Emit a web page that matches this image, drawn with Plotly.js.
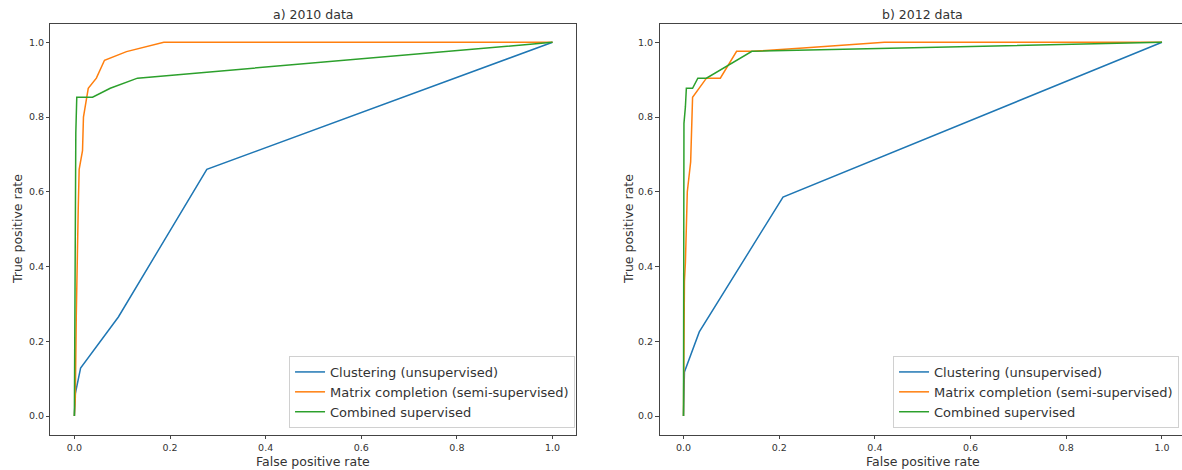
<!DOCTYPE html>
<html>
<head>
<meta charset="utf-8">
<script src="https://cdn.plot.ly/plotly-3.0.1.min.js"></script>
<style>html,body{margin:0;padding:0;background:#fff;}#chart{width:1182px;height:470px;}</style>
</head>
<body>
<div id="chart"></div>
<script>
// Series names
const seriesNames = ["Clustering (unsupervised)", "Matrix completion (semi-supervised)", "Combined supervised"];
const panelTitles = ["a) 2010 data", "b) 2012 data"];
const xTitle = "False positive rate";
const yTitle = "True positive rate";
const tickVals = [0, 0.2, 0.4, 0.6, 0.8, 1.0];

// a) 2010 data
const clust2010_fpr = [0, 0.002, 0.013, 0.092, 0.277, 1.0];
const clust2010_tpr = [0, 0.06, 0.128, 0.265, 0.66, 1.0];
const matrix2010_fpr = [0, 0.002, 0.004, 0.006, 0.008, 0.010, 0.017, 0.019, 0.029, 0.046, 0.063, 0.109, 0.187, 1.0];
const matrix2010_tpr = [0, 0.05, 0.27, 0.45, 0.55, 0.66, 0.71, 0.80, 0.877, 0.904, 0.952, 0.975, 1.0, 1.0];
const comb2010_fpr = [0, 0.002, 0.003, 0.005, 0.038, 0.075, 0.132, 1.0];
const comb2010_tpr = [0, 0.5, 0.757, 0.853, 0.853, 0.877, 0.904, 1.0];

// b) 2012 data
const clust2012_fpr = [0, 0.001, 0.002, 0.033, 0.208, 1.0];
const clust2012_tpr = [0, 0.09, 0.118, 0.225, 0.586, 1.0];
const matrix2012_fpr = [0, 0.002, 0.004, 0.006, 0.008, 0.015, 0.019, 0.048, 0.077, 0.111, 0.145, 0.25, 0.35, 0.42, 1.0];
const matrix2012_tpr = [0, 0.36, 0.41, 0.50, 0.60, 0.68, 0.853, 0.904, 0.904, 0.976, 0.976, 0.985, 0.993, 1.0, 1.0];
const comb2012_fpr = [0, 0.001, 0.004, 0.006, 0.019, 0.030, 0.048, 0.143, 1.0];
const comb2012_tpr = [0, 0.783, 0.827, 0.877, 0.877, 0.904, 0.904, 0.976, 1.0];

const colors = ["#1f77b4", "#ff7f0e", "#2ca02c"];

function tr(x, y, i, xa, ya, lg) {
  return {x: x, y: y, type: "scatter", mode: "lines", name: seriesNames[i],
    line: {color: colors[i], width: 1.5}, xaxis: xa, yaxis: ya, legend: lg,
    hoverinfo: "skip"};
}

const data = [
  tr(clust2010_fpr, clust2010_tpr, 0, "x", "y", "legend"),
  tr(matrix2010_fpr, matrix2010_tpr, 1, "x", "y", "legend"),
  tr(comb2010_fpr, comb2010_tpr, 2, "x", "y", "legend"),
  tr(clust2012_fpr, clust2012_tpr, 0, "x2", "y2", "legend2"),
  tr(matrix2012_fpr, matrix2012_tpr, 1, "x2", "y2", "legend2"),
  tr(comb2012_fpr, comb2012_tpr, 2, "x2", "y2", "legend2")
];

const tickFont = {family: "DejaVu Sans", size: 9.5, color: "#333"};
function axis(domain, range, anchor) {
  return {domain: domain, range: range, anchor: anchor, showgrid: false, zeroline: false,
    showline: true, mirror: true, linecolor: "#444", linewidth: 1,
    ticks: "outside", ticklen: 3.5, tickwidth: 1, tickcolor: "#444",
    tickvals: tickVals, tickformat: ".1f", tickfont: tickFont, fixedrange: true};
}
const yDom = [0.0751, 0.9498];
const legendBase = {bgcolor: "rgba(255,255,255,0.85)", bordercolor: "#d0d0d0", borderwidth: 1,
  font: {family: "DejaVu Sans", size: 13, color: "#333"}, xanchor: "right", yanchor: "bottom",
  tracegroupgap: 0, itemwidth: 30};

const layout = {
  width: 1182, height: 470,
  margin: {l: 0, r: 0, t: 0, b: 0},
  paper_bgcolor: "#fff", plot_bgcolor: "#fff",
  showlegend: true,
  xaxis: axis([0.0427, 0.4877], [-0.05, 1.05], "y"),
  yaxis: axis(yDom, [-0.05, 1.05], "x"),
  xaxis2: axis([0.558, 1.0], [-0.05, 1.0418], "y2"),
  yaxis2: axis(yDom, [-0.05, 1.05], "x2"),
  legend: Object.assign({}, legendBase, {x: 0.4865, y: 0.0894}),
  legend2: Object.assign({}, legendBase, {x: 0.9975, y: 0.0894}),
  annotations: [
    {text: panelTitles[0], xref: "paper", yref: "paper", x: 0.2652, y: 1 - 14/470, xanchor: "center", yanchor: "middle", showarrow: false, font: {family: "DejaVu Sans", size: 12.5, color: "#333"}},
    {text: panelTitles[1], xref: "paper", yref: "paper", x: 922.7/1182, y: 1 - 14/470, xanchor: "center", yanchor: "middle", showarrow: false, font: {family: "DejaVu Sans", size: 12.5, color: "#333"}},
    {text: xTitle, xref: "paper", yref: "paper", x: 0.2652, y: 1 - 461/470, xanchor: "center", yanchor: "middle", showarrow: false, font: {family: "DejaVu Sans", size: 12.5, color: "#333"}},
    {text: xTitle, xref: "paper", yref: "paper", x: 922.7/1182, y: 1 - 461/470, xanchor: "center", yanchor: "middle", showarrow: false, font: {family: "DejaVu Sans", size: 12.5, color: "#333"}},
    {text: yTitle, xref: "paper", yref: "paper", x: 17/1182, y: 1 - 229/470, xanchor: "center", yanchor: "middle", textangle: -90, showarrow: false, font: {family: "DejaVu Sans", size: 12.5, color: "#333"}},
    {text: yTitle, xref: "paper", yref: "paper", x: 628/1182, y: 1 - 229/470, xanchor: "center", yanchor: "middle", textangle: -90, showarrow: false, font: {family: "DejaVu Sans", size: 12.5, color: "#333"}}
  ]
};

Plotly.newPlot("chart", data, layout, {staticPlot: true, displayModeBar: false});
</script>
</body>
</html>
